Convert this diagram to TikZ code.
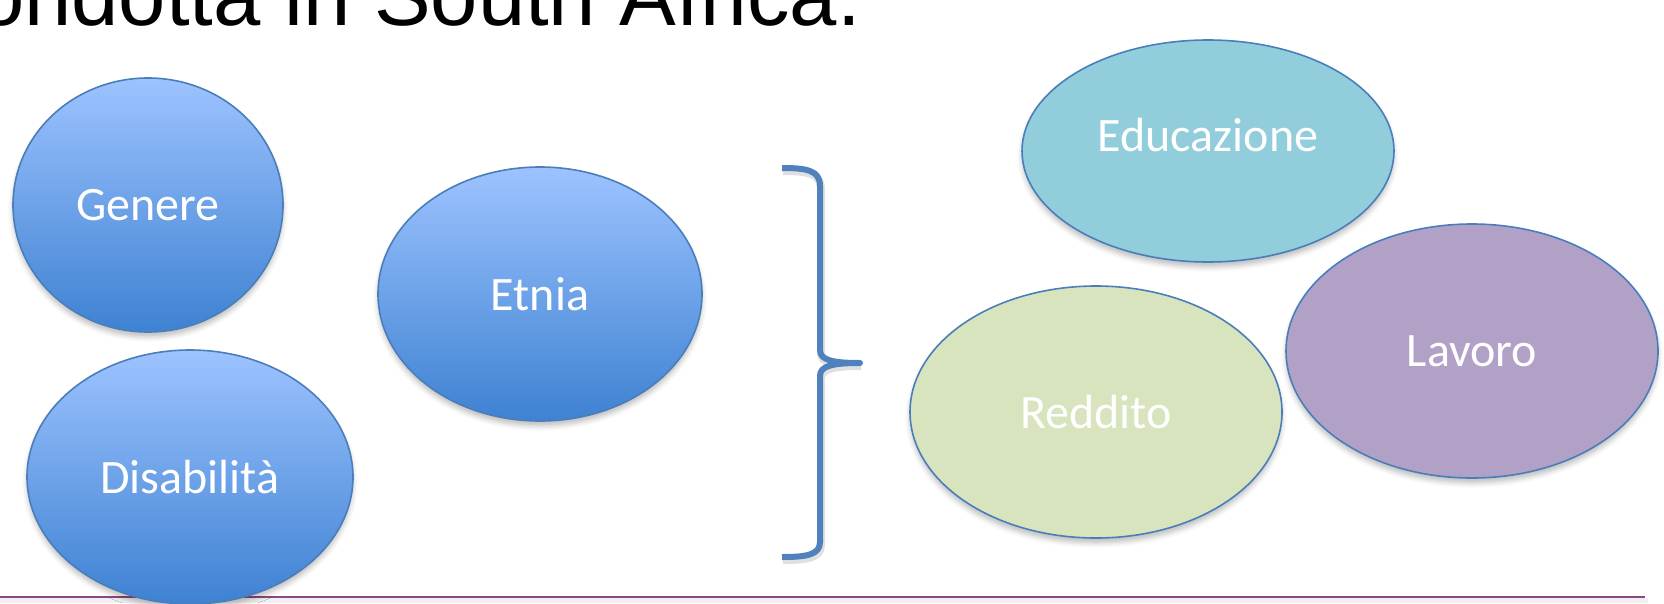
\documentclass[tikz,border=0pt]{standalone}
\usepackage{fontspec}
\setmainfont{Carlito}
\newfontfamily\titlefont{Liberation Sans}
\usetikzlibrary{shapes.geometric,shadows.blur}

\definecolor{edgeblue}{RGB}{74,126,187}
\definecolor{bracecol}{RGB}{79,129,189}
\definecolor{gradtop}{RGB}{157,195,255}
\definecolor{gradmid}{RGB}{128,176,242}
\definecolor{gradbot}{RGB}{62,130,210}
\definecolor{tealfill}{RGB}{146,205,220}
\definecolor{greenfill}{RGB}{215,228,189}
\definecolor{purplefill}{RGB}{178,161,199}
\definecolor{rulecol}{RGB}{140,72,128}
\definecolor{bandcol}{RGB}{240,240,240}

\tikzset{
  bubble/.style={ellipse, draw=edgeblue, line width=1.6pt, inner sep=0pt,
    text=white, font=\fontsize{48}{57}\selectfont,
    blur shadow={shadow xshift=0pt, shadow yshift=-5pt, shadow opacity=25, shadow blur radius=5pt}},
  bluebubble/.style={bubble, top color=gradtop, middle color=gradmid, bottom color=gradbot},
  bracestroke/.style={draw=bracecol, line width=6pt, line join=round,
    preaction={draw=black, draw opacity=0.12, line width=8pt,
      transform canvas={xshift=1pt, yshift=-3pt}}}
}

\begin{document}
\begin{tikzpicture}[x=1pt, y=-1pt]
  \useasboundingbox (0,0) rectangle (1664,603);

  % heading line, partly above the page
  \node[anchor=base east, inner sep=0pt, font=\titlefont\fontsize{85}{100}\selectfont]
    (title) at (861,25) {ondotta in South Africa.};

  % footer rule with its faint band
  \fill[bandcol] (0,598) rectangle (1648,603);
  \draw[rulecol, line width=1.8pt] (0,597) -- (1645,597);

  % left group
  \node[bluebubble, minimum width=270pt, minimum height=254pt] (genere) at (148,205) {Genere};
  \node[bluebubble, minimum width=326pt, minimum height=254pt] (disab) at (190,477) {Disabilità};
  \node[bluebubble, minimum width=324pt, minimum height=254pt] (etnia) at (540,294) {Etnia};

  % curly brace
  \coordinate (btop) at (782,168);
  \coordinate (btip) at (860,363);
  \coordinate (bbot) at (782,557);
  \draw[bracestroke] (btop) .. controls (806,168) and (820,170) .. (820,186)
    -- (820,350) .. controls (820,360) and (832,363) .. (btip)
    .. controls (832,363) and (820,366) .. (820,376)
    -- (820,542) .. controls (820,555) and (806,557) .. (bbot);

  % right group
  \node[bubble, fill=tealfill, minimum width=372pt, minimum height=222pt] (educ) at (1208,151) {\smash{Educazione}};
  \node[bubble, fill=purplefill, minimum width=372pt, minimum height=254pt] (lavoro) at (1472,351) {Lavoro};
  \node[bubble, fill=greenfill, minimum width=372pt, minimum height=252pt] (reddito) at (1096,412) {Reddito};
\end{tikzpicture}
\end{document}
